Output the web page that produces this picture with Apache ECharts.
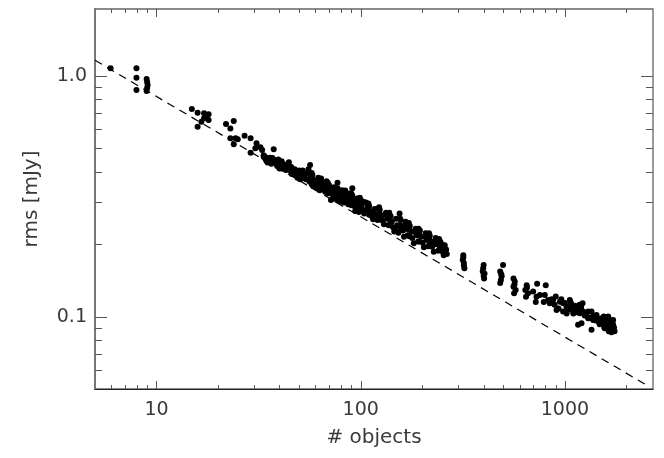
<!DOCTYPE html>
<html>
<head>
<meta charset="utf-8">
<script src="https://cdn.jsdelivr.net/npm/echarts@6/dist/echarts.min.js"></script>
<style>
html,body{margin:0;padding:0;background:#fff;}
#chart{width:664px;height:458px;}
</style>
</head>
<body>
<div id="chart"></div>
<script>
// ---- data: [# objects, rms (mJy)] ----
const sparsePoints = [
  [5.96,1.077],
  [7.98,1.077],[7.98,0.984],[7.98,0.875],
  [8.95,0.972],[9.0,0.945],[9.05,0.918],[9.0,0.892],[8.95,0.866],
  [14.9,0.729],[15.9,0.704],[15.9,0.616],[17.1,0.700],[17.1,0.667],[18.0,0.693],[18.0,0.656],[16.6,0.646],[17.5,0.68],
  [21.9,0.632],[23.0,0.606],[23.9,0.650],[23.0,0.551],[24.4,0.551],[23.9,0.520],[25.0,0.546],
  [27.0,0.565],[28.9,0.551],[30.9,0.525],[28.9,0.480],[30.5,0.501],[32.3,0.506],[32.9,0.493],[33.5,0.462],[35.5,0.455],[37.5,0.496],[36.7,0.448]
];
const bandPoints = [
  [33.5,0.468],[34,0.455],[34.5,0.445],[35,0.437],[34,0.462],[35.5,0.45],
  [36,0.445],[36.5,0.432],[36,0.458],
  [37,0.456],[38,0.447],[38.5,0.433],[39,0.423],[37.5,0.44],[39.5,0.45],
  [40,0.44],[40.5,0.425],[40,0.413],
  [41,0.442],[42,0.43],[42.5,0.418],[43,0.407],[44,0.425],[41.5,0.412],[44.5,0.438],
  [45.5,0.42],[45,0.405],[46,0.392],
  [46,0.415],[47,0.398],[48,0.388],[49,0.378],[50,0.405],[50.5,0.372],[51,0.392],[47.5,0.41],
  [51.5,0.398],[52,0.385],[51.5,0.375],
  [52,0.405],[53,0.383],[54,0.372],[55,0.395],[56,0.365],[57,0.38],[53.5,0.392],[55.5,0.41],[56.5,0.427],
  [57.5,0.395],[57,0.372],[57.5,0.355],
  [58,0.388],[59,0.37],[60,0.355],[61,0.342],[62,0.378],[63,0.335],[60.5,0.362],[58.5,0.348],
  [63,0.37],[63.5,0.355],[62.5,0.345],
  [64,0.375],[65,0.36],[66,0.347],[67,0.33],[68,0.365],[69,0.34],[65.5,0.338],
  [69,0.36],[69.5,0.345],[69,0.325],
  [70,0.352],[71,0.338],[72,0.325],[73,0.31],[74,0.345],[75,0.318],[71.5,0.305],[77,0.36],
  [75.5,0.335],[76,0.325],[76.5,0.305],
  [77,0.342],[78,0.328],[79,0.315],[80,0.3],[81,0.335],[82,0.31],[79.5,0.322],
  [83,0.33],[82.5,0.315],[83,0.298],
  [84,0.334],[85,0.318],[86,0.305],[87,0.293],[88,0.325],[89,0.3],[86.5,0.312],[91,0.342],
  [90,0.325],[90.5,0.31],[90,0.29],
  [91,0.318],[92,0.3],[93,0.288],[94,0.275],[96,0.31],[97,0.283],[95,0.295],[98,0.272],
  [99,0.312],[99.5,0.292],[99,0.278],
  [100,0.305],[101,0.29],[102,0.278],[104,0.268],[106,0.298],[107,0.275],[108,0.285],[103,0.3],
  [109,0.295],[109.5,0.278],[110,0.265],
  [110,0.288],[112,0.272],[113,0.262],[115,0.254],[117,0.28],[119,0.265],[121,0.252],[116,0.27],
  [123,0.285],[123.5,0.268],[123,0.255],
  [124,0.278],[126,0.262],[128,0.25],[130,0.242],[133,0.27],[135,0.255],[137,0.24],[131,0.265],
  [138,0.27],[138.5,0.255],[139,0.242],
  [140,0.262],[142,0.248],[144,0.235],[146,0.226],[149,0.255],[151,0.24],[153,0.223],[147,0.232],[155,0.268],
  [156,0.255],[155.5,0.24],[156,0.228],
  [157,0.252],[159,0.238],[161,0.228],[163,0.215],[166,0.248],[168,0.232],[170,0.218],[165,0.24],
  [172,0.245],[172.5,0.23],[173,0.216],
  [174,0.238],[177,0.226],[179,0.212],[182,0.202],[186,0.232],[189,0.218],[191,0.205],[184,0.225],
  [192,0.232],[193,0.22],[193,0.205],
  [195,0.228],[198,0.215],[201,0.203],[204,0.194],[208,0.222],[211,0.208],[214,0.196],[206,0.215],
  [216,0.222],[216.5,0.21],[217,0.198],
  [218,0.217],[221,0.205],[224,0.195],[228,0.186],[233,0.212],[236,0.2],[240,0.188],[231,0.205],
  [242,0.21],[243,0.2],[243,0.19],
  [245,0.205],[249,0.195],[252,0.186],[255,0.18],[258,0.198],[262,0.19],[264,0.182],[250,0.2]
];
const tailColumns = [
  [318,0.180],[316,0.172],[320,0.167],[322,0.159],[318,0.176],[320,0.163],
  [400,0.164],[396,0.154],[404,0.151],[402,0.144],[398,0.159],[400,0.148],
  [498,0.164],[482,0.154],[490,0.147],[482,0.138],[488,0.150],[486,0.142],
  [560,0.144],[568,0.140],[560,0.133],[574,0.129],[564,0.125],[566,0.136],
  [650,0.135],[640,0.129],[660,0.125],[645,0.121],[652,0.132],
  [731,0.137],[699,0.127],[726,0.121],[720,0.115],[754,0.123],[788,0.115],[797,0.123],[806,0.135]
];
const tailBlob = [
  [827,0.1173],[843,0.1137],[875,0.1173],[902,0.1211],[910,0.1066],[944,0.1154],[980,0.1137],[980,0.1049],
  [1018,0.110],[1057,0.1173],[1077,0.110],[1097,0.1049],[1140,0.1083],[1183,0.1033],[1220,0.1137],[1228,0.1049],
  [1160,0.0924],[1206,0.0939],[1276,0.1033],[1299,0.0985],[1350,0.1049],[1350,0.0881],[1374,0.0969],[1428,0.1016],
  [1454,0.0953],[1511,0.0985],[1539,0.0939],[1568,0.0895],[1628,0.100],[1660,0.0939],[1692,0.0867],[1722,0.0969],
  [1722,0.0909],[1646,0.0895],
  [860,0.118],[890,0.112],[930,0.108],[960,0.118],[1000,0.114],[1040,0.107],[1070,0.114],[1120,0.111],
  [1160,0.104],[1200,0.109],[1250,0.101],[1300,0.105],[1330,0.099],[1180,0.112],[1100,0.103],[1020,0.103],
  [1450,0.098],[1480,0.093],[1520,0.095],[1550,0.1],[1580,0.096],[1600,0.092],[1620,0.095],[1640,0.098],
  [1660,0.091],[1680,0.094],[1700,0.089],[1720,0.093],[1740,0.090],[1750,0.087],[1700,0.0955],[1600,0.0975],
  [1560,0.090],[1640,0.087],[1690,0.086],[1400,0.0965],[1380,0.101]
];
// dashed reference line (rms proportional to N^-0.5), end points
const fitLine = [[5,1.163],[2500,0.052]];

// axes
const xRange = [5, 2700];
const yRange = [0.05, 1.9];
const xMajorTicks = [10, 100, 1000];
const xTickLabels = ['10', '100', '1000'];
const xMinorTicks = [6,7,8,9,20,30,40,50,60,70,80,90,200,300,400,500,600,700,800,900,2000];
const yMajorTicks = [0.1, 1];
const yTickLabels = ['0.1', '1.0'];
const yMinorTicks = [0.06,0.07,0.08,0.09,0.2,0.3,0.4,0.5,0.6,0.7,0.8,0.9];

const TICK = '#555';
const FONT = 'DejaVu Sans';

function labelFor(v, ticks, labels) {
  for (let i = 0; i < ticks.length; i++) {
    if (Math.abs(Math.log10(v) - Math.log10(ticks[i])) < 0.01) return labels[i];
  }
  return '';
}

function xTickSeries(ticks, len) {
  return {
    type: 'custom', silent: true, z: 5,
    data: ticks.map(t => [t, 1]),
    renderItem: function (params, api) {
      const cs = params.coordSys;
      const px = Math.round(api.coord([api.value(0), 1])[0]) + 0.5;
      const yb = cs.y + cs.height, yt = cs.y;
      return { type: 'group', children: [
        { type: 'line', shape: { x1: px, y1: yb, x2: px, y2: yb - len }, style: { stroke: TICK, lineWidth: 1 } },
        { type: 'line', shape: { x1: px, y1: yt, x2: px, y2: yt + len }, style: { stroke: TICK, lineWidth: 1 } }
      ]};
    }
  };
}
function yTickSeries(ticks, len) {
  return {
    type: 'custom', silent: true, z: 5,
    data: ticks.map(t => [10, t]),
    renderItem: function (params, api) {
      const cs = params.coordSys;
      const py = Math.round(api.coord([10, api.value(1)])[1]) + 0.5;
      const xl = cs.x, xr = cs.x + cs.width;
      return { type: 'group', children: [
        { type: 'line', shape: { x1: xl, y1: py, x2: xl + len, y2: py }, style: { stroke: TICK, lineWidth: 1 } },
        { type: 'line', shape: { x1: xr, y1: py, x2: xr - len, y2: py }, style: { stroke: TICK, lineWidth: 1 } }
      ]};
    }
  };
}

const chart = echarts.init(document.getElementById('chart'), null, { renderer: 'canvas' });
const dotStyle = { color: '#000', opacity: 1 };
const DOT = 6;
chart.setOption({
  animation: false,
  backgroundColor: '#fff',
  grid: { left: 95, right: 11, top: 9, bottom: 69, show: true, borderColor: '#666', borderWidth: 1.3, backgroundColor: 'transparent' },
  xAxis: {
    type: 'log', logBase: 10, min: xRange[0], max: xRange[1],
    name: '# objects', nameLocation: 'middle', nameGap: 39,
    nameTextStyle: { fontFamily: FONT, fontSize: 20, color: '#3a3a3a' },
    axisLine: { show: true, lineStyle: { color: '#222', width: 1 } },
    axisTick: { show: false },
    splitLine: { show: false },
    axisLabel: {
      margin: 12, fontFamily: FONT, fontSize: 19, color: '#3a3a3a',
      showMinLabel: false, showMaxLabel: false,
      formatter: v => labelFor(v, xMajorTicks, xTickLabels)
    }
  },
  yAxis: {
    type: 'log', logBase: 10, min: yRange[0], max: yRange[1],
    name: 'rms [mJy]', nameLocation: 'middle', nameGap: 53,
    nameTextStyle: { fontFamily: FONT, fontSize: 20, color: '#3a3a3a' },
    axisLine: { show: true, lineStyle: { color: '#777', width: 2 } },
    axisTick: { show: false },
    splitLine: { show: false },
    axisLabel: {
      margin: 8, fontFamily: FONT, fontSize: 19, color: '#3a3a3a',
      showMinLabel: false, showMaxLabel: false,
      formatter: v => labelFor(v, yMajorTicks, yTickLabels)
    }
  },
  series: [
    {
      type: 'line', data: fitLine, showSymbol: false, silent: true, z: 2,
      lineStyle: { color: '#000', width: 1.2, type: [8, 6] }
    },
    { type: 'scatter', data: sparsePoints, symbolSize: DOT, itemStyle: dotStyle, z: 3 },
    { type: 'scatter', data: bandPoints, symbolSize: DOT, itemStyle: dotStyle, z: 3 },
    { type: 'scatter', data: tailColumns, symbolSize: DOT, itemStyle: dotStyle, z: 3 },
    { type: 'scatter', data: tailBlob, symbolSize: DOT, itemStyle: dotStyle, z: 3 },
    xTickSeries(xMajorTicks, 8),
    xTickSeries(xMinorTicks, 4),
    yTickSeries(yMajorTicks, 12),
    yTickSeries(yMinorTicks, 7)
  ]
});
</script>
</body>
</html>
